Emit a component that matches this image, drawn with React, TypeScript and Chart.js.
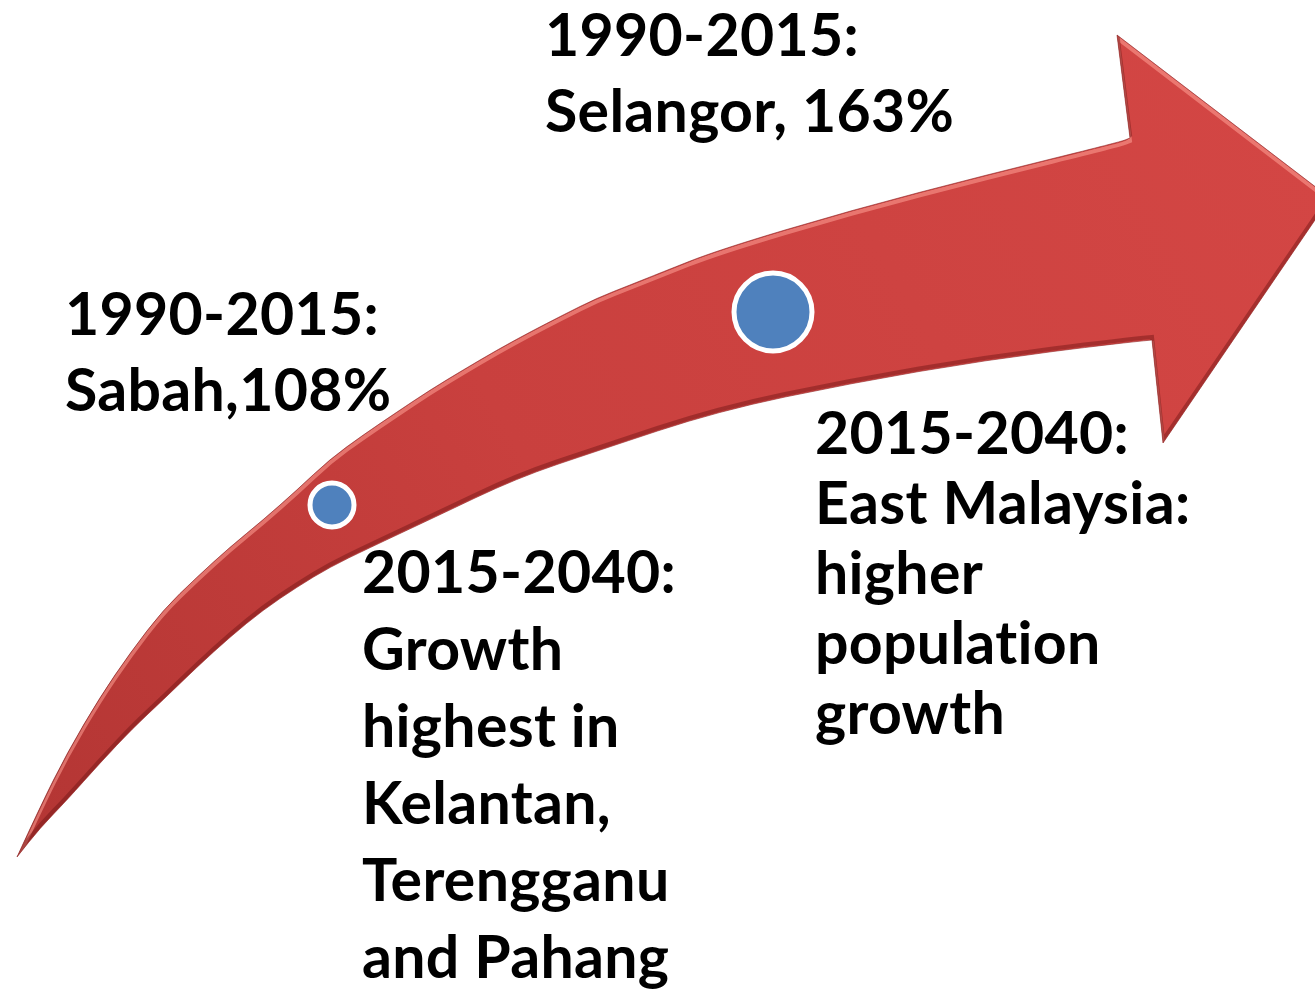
import React, { useEffect, useRef } from "react";
import { Chart, registerables } from "chart.js";

Chart.register(...registerables);

// ---- Arrow outline (pixel-space data units) ----
const upperEdgeX = [17, 40, 67, 100, 130, 163, 197, 230, 263, 297, 330, 363, 397, 430, 463, 497, 530, 563, 597, 630, 660, 718, 852, 986, 1120, 1130];
const upperEdgeY = [857, 807, 753, 697, 653, 610, 577, 547, 520, 490, 459, 435, 412, 390, 370, 350, 332, 315, 298, 285, 273, 250, 210, 175, 142, 138];

const headX = [1117, 1330, 1163, 1152];
const headY = [35, 198, 443, 340];

const lowerEdgeX = [17, 40, 67, 100, 133, 163, 197, 230, 263, 297, 330, 367, 433, 517, 597, 718, 852, 986, 1120, 1152];
const lowerEdgeY = [857, 828, 800, 763, 728, 700, 667, 637, 610, 587, 567, 549, 518, 478, 451, 411, 383, 360, 343, 340];

// ---- Milestone markers ----
const markerX = [332, 773];
const markerY = [505, 312];

// ---- Text blocks ----
const textSelangor = ["1990-2015:", "Selangor, 163%"];
const textSabah = ["1990-2015:", "Sabah,108%"];
const textEastCoast = ["2015-2040:", "Growth", "highest in", "Kelantan,", "Terengganu", "and Pahang"];
const textEastMalaysia = ["2015-2040:", "East Malaysia:", "higher", "population", "growth"];

const textBlocks = [
  { lines: textSelangor, x: 545, y: 56, lh: 76 },
  { lines: textSabah, x: 65, y: 335, lh: 76 },
  { lines: textEastCoast, x: 362, y: 593, lh: 77 },
  { lines: textEastMalaysia, x: 815, y: 454, lh: 70 },
];

const FONT_SIZE = 59;
const FONT_FAMILY = "Lato";

function zip(xs: number[], ys: number[]) {
  return xs.map((x, i) => ({ x, y: ys[i] }));
}

function smoothThrough(ctx: CanvasRenderingContext2D, pts: { x: number; y: number }[]) {
  for (let i = 1; i < pts.length - 1; i++) {
    const mx = (pts[i].x + pts[i + 1].x) / 2;
    const my = (pts[i].y + pts[i + 1].y) / 2;
    ctx.quadraticCurveTo(pts[i].x, pts[i].y, mx, my);
  }
  const last = pts[pts.length - 1];
  ctx.lineTo(last.x, last.y);
}

const arrowPlugin = {
  id: "arrowShape",
  beforeDatasetsDraw(chart: any) {
    const { ctx, scales } = chart;
    const sx = scales.x;
    const sy = scales.y;
    const px = (arrX: number[], arrY: number[]) =>
      zip(arrX, arrY).map((p) => ({ x: sx.getPixelForValue(p.x), y: sy.getPixelForValue(p.y) }));
    const upper = px(upperEdgeX, upperEdgeY);
    const head = px(headX, headY);
    const lower = px(lowerEdgeX, lowerEdgeY).reverse();

    const buildPath = () => {
      ctx.beginPath();
      ctx.moveTo(upper[0].x, upper[0].y);
      smoothThrough(ctx, upper);
      head.forEach((p) => ctx.lineTo(p.x, p.y));
      ctx.lineTo(lower[0].x, lower[0].y);
      smoothThrough(ctx, lower);
      ctx.closePath();
    };

    ctx.save();
    const grad = ctx.createLinearGradient(sx.getPixelForValue(0), sy.getPixelForValue(900), sx.getPixelForValue(1300), sy.getPixelForValue(150));
    grad.addColorStop(0, "#b23533");
    grad.addColorStop(0.45, "#c9403e");
    grad.addColorStop(1, "#d34644");
    buildPath();
    ctx.fillStyle = grad;
    ctx.fill();

    // bevel: clip to shape, draw highlight and shadow strokes
    ctx.save();
    buildPath();
    ctx.clip();
    ctx.save();
    ctx.translate(0, 3);
    buildPath();
    ctx.strokeStyle = "rgba(255,160,150,0.55)";
    ctx.lineWidth = 4;
    ctx.stroke();
    ctx.restore();
    ctx.save();
    ctx.translate(0, -3);
    buildPath();
    ctx.strokeStyle = "rgba(110,20,20,0.45)";
    ctx.lineWidth = 4;
    ctx.stroke();
    ctx.restore();
    ctx.restore();

    buildPath();
    ctx.strokeStyle = "rgba(140,35,35,0.6)";
    ctx.lineWidth = 1;
    ctx.stroke();
    ctx.restore();
  },
  afterDatasetsDraw(chart: any) {
    const { ctx, scales } = chart;
    ctx.save();
    ctx.fillStyle = "#000000";
    ctx.font = `bold ${FONT_SIZE}px ${FONT_FAMILY}`;
    try {
      (ctx as any).letterSpacing = "0.3px";
    } catch (e) {}
    ctx.textBaseline = "alphabetic";
    ctx.textAlign = "left";
    for (const b of textBlocks) {
      b.lines.forEach((line, i) => {
        const x = scales.x.getPixelForValue(b.x);
        const y = scales.y.getPixelForValue(b.y + i * b.lh);
        ctx.fillText(line, x, y);
      });
    }
    ctx.restore();
  },
};

export default function App() {
  const canvasRef = useRef<HTMLCanvasElement | null>(null);

  useEffect(() => {
    if (!canvasRef.current) return;
    const chart = new Chart(canvasRef.current, {
      type: "scatter",
      data: {
        datasets: [
          {
            label: "Milestones",
            data: zip(markerX, markerY),
            backgroundColor: "#4f81bd",
            borderColor: "#ffffff",
            borderWidth: 5,
            pointRadius: [22, 39],
            pointHoverRadius: [22, 39],
          },
        ],
      },
      options: {
        animation: false,
        responsive: true,
        maintainAspectRatio: false,
        layout: { padding: 0, autoPadding: false },
        plugins: { legend: { display: false }, tooltip: { enabled: false } },
        events: [],
        scales: {
          x: { type: "linear", min: 0, max: 1315, display: false },
          y: { type: "linear", min: 0, max: 989, reverse: true, display: false },
        },
      },
      plugins: [arrowPlugin],
    });
    return () => chart.destroy();
  }, []);

  return (
    <div style={{ position: "absolute", left: 0, top: 0, width: 1315, height: 989, background: "#ffffff" }}>
      <canvas ref={canvasRef} />
    </div>
  );
}
